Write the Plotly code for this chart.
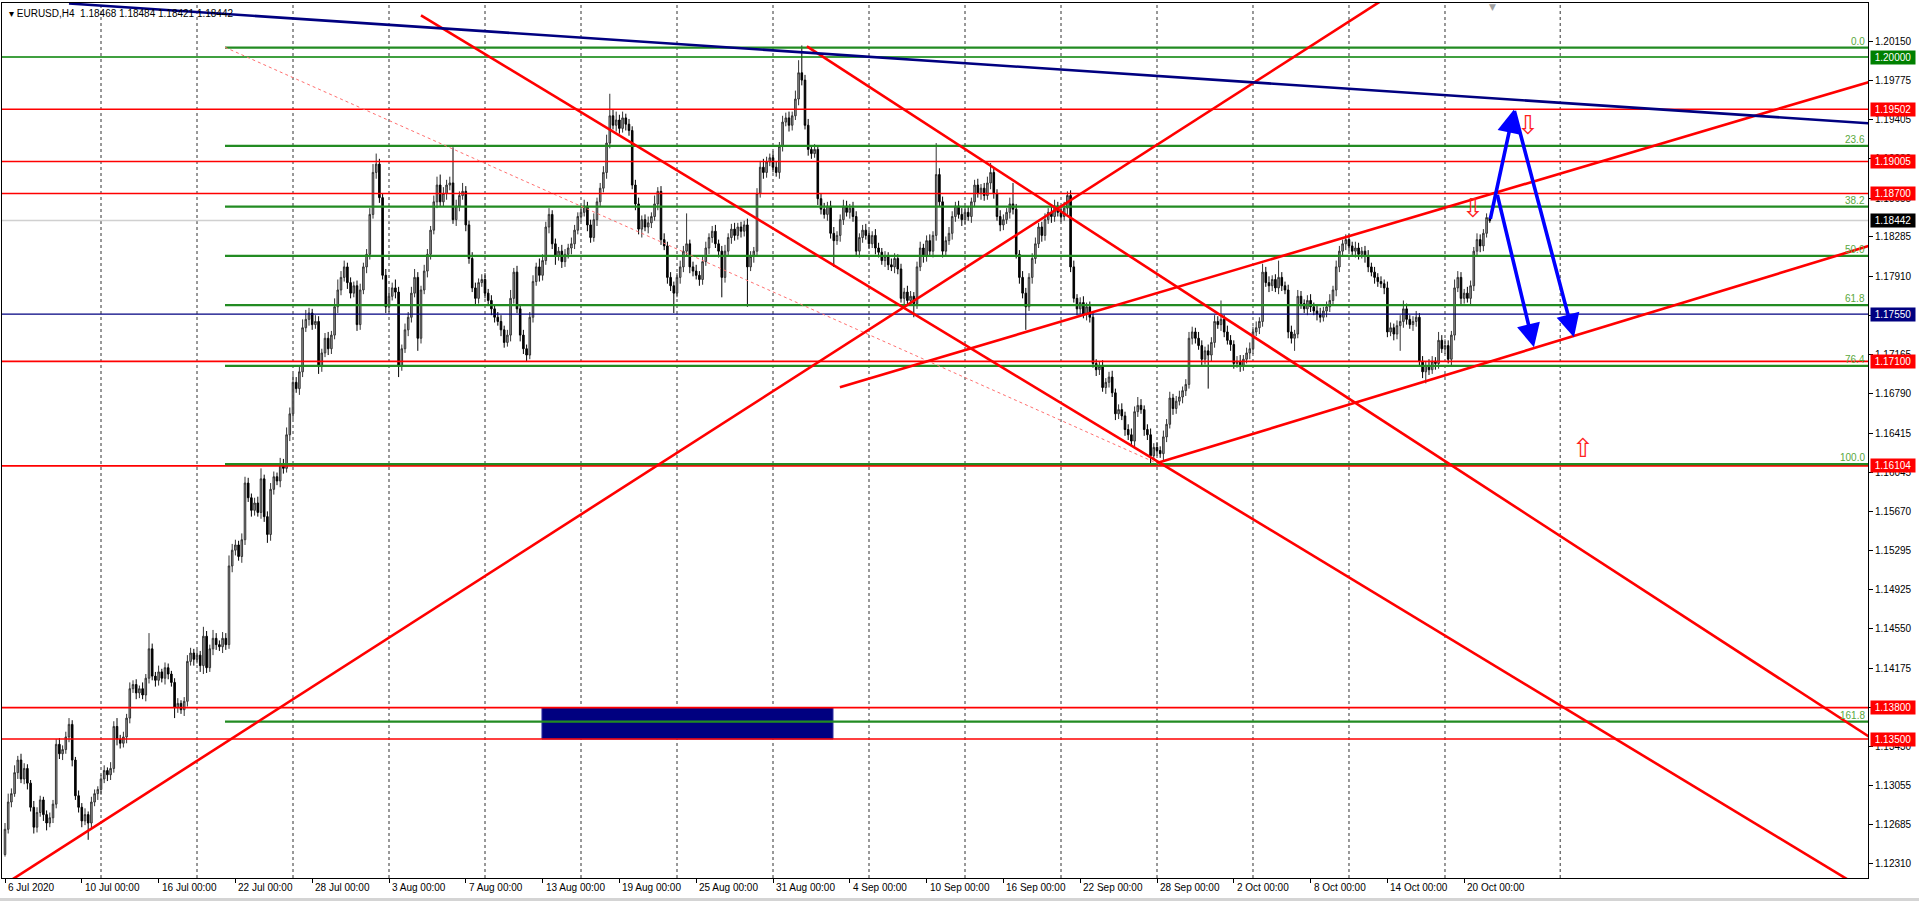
import plotly.graph_objects as go

# ---------------- data (prices in 1e-4 units) ----------------
FIRST_OPEN = 11240
CLOSE = [
    11264, 11290, 11298, 11318, 11330, 11312, 11322, 11308, 11285, 11266, 11280, 11292, 11278, 11270, 11275,
    11288, 11345, 11336, 11340, 11352, 11364, 11330, 11296, 11285, 11272, 11278, 11270, 11290, 11298, 11302,
    11312, 11320, 11316, 11322, 11362, 11350, 11346, 11352, 11370, 11398, 11402, 11394, 11398, 11392, 11408,
    11436, 11410, 11406, 11414, 11408, 11418, 11412, 11404, 11380, 11384, 11378, 11386, 11424, 11432, 11426,
    11430, 11420, 11448, 11418, 11436, 11446, 11440, 11438, 11446, 11440, 11515, 11530, 11535, 11524, 11540,
    11594, 11580, 11568, 11575, 11566, 11598, 11562, 11545, 11588, 11600, 11596, 11612, 11608, 11640, 11660,
    11690, 11684, 11700, 11742, 11750, 11756, 11745, 11748, 11705, 11718, 11732, 11722, 11735, 11762, 11778,
    11790, 11800, 11785, 11775, 11782, 11745, 11778, 11800, 11812, 11850, 11890, 11898, 11866, 11792, 11762,
    11772, 11780, 11776, 11706, 11722, 11740, 11752, 11775, 11790, 11732, 11778, 11796, 11812, 11835, 11862,
    11878, 11862, 11870, 11878, 11880, 11845, 11858, 11868, 11872, 11840, 11808, 11780, 11770, 11785, 11788,
    11775, 11768, 11760, 11752, 11748, 11740, 11728, 11735, 11770, 11795, 11760, 11735, 11722, 11716, 11752,
    11786, 11800, 11792, 11806, 11838, 11850, 11822, 11810, 11815, 11805, 11812, 11818, 11822, 11835, 11848,
    11852, 11858, 11840, 11828, 11845, 11862, 11875, 11890, 11918, 11944, 11935, 11940, 11932, 11942, 11936,
    11930, 11878, 11860, 11836, 11845, 11838, 11842, 11848, 11860, 11872, 11826, 11820, 11790, 11782, 11775,
    11790, 11800, 11815, 11822, 11800, 11796, 11792, 11788, 11805, 11818, 11828, 11834, 11822, 11815, 11790,
    11815, 11828, 11836, 11830, 11838, 11834, 11840, 11800, 11810, 11815, 11870, 11895, 11890, 11900, 11904,
    11895, 11890, 11915, 11938, 11942, 11935, 11944, 11960, 11985, 11978, 11935, 11912, 11908, 11912, 11865,
    11855, 11850, 11858, 11832, 11825, 11830, 11845, 11858, 11852, 11856, 11848, 11815, 11828, 11835, 11830,
    11822, 11830, 11818, 11814, 11806, 11810, 11802, 11800, 11808, 11798, 11770, 11776, 11768, 11772, 11765,
    11800, 11818, 11810, 11825, 11815, 11830, 11888, 11862, 11815, 11825, 11832, 11848, 11858, 11850, 11845,
    11852, 11848, 11862, 11878, 11870, 11875, 11868, 11880, 11890, 11870, 11848, 11840, 11845, 11852, 11860,
    11855, 11812, 11790, 11775, 11762, 11790, 11808, 11822, 11838, 11830, 11845, 11852, 11848, 11858, 11852,
    11848, 11856, 11868, 11800, 11770, 11760, 11766, 11755, 11762, 11752, 11708, 11702, 11705, 11685, 11690,
    11695, 11680, 11660, 11664, 11658, 11645, 11640, 11634, 11662, 11668, 11664, 11645, 11640, 11620, 11628,
    11625, 11622, 11638, 11650, 11675, 11665, 11672, 11676, 11682, 11688, 11732, 11738, 11732, 11725, 11712,
    11720, 11716, 11728, 11748, 11745, 11750, 11738, 11730, 11726, 11708, 11710, 11706, 11712, 11718, 11722,
    11738, 11742, 11748, 11795, 11785, 11782, 11788, 11780, 11790, 11782, 11778, 11738, 11732, 11736, 11772,
    11765, 11760, 11768, 11762, 11758, 11755, 11752, 11758, 11762, 11768, 11778, 11800, 11815, 11822, 11826,
    11820, 11815, 11818, 11812, 11815, 11810, 11800, 11795, 11790, 11786, 11784, 11780, 11738, 11742, 11736,
    11744, 11748, 11760, 11750, 11745, 11748, 11752, 11710, 11700, 11706, 11702, 11710, 11708, 11730, 11722,
    11725, 11712, 11735, 11780, 11790, 11770, 11775, 11770, 11782, 11815, 11826, 11820, 11832, 11847, 11844,
]
WICK_UP = [
    6, 8, 5, 7, 4, 6, 5, 4, 3, 6, 5, 4, 3, 4, 5, 4, 5, 6, 4, 5, 6, 4, 3, 5, 4, 6, 3, 5, 4, 3,
    4, 5, 3, 6, 5, 8, 4, 5, 4, 6, 4, 5, 3, 6, 4, 15, 5, 4, 6, 3, 5, 4, 3, 4, 5, 3, 4, 6, 5, 4,
    5, 4, 9, 5, 4, 8, 5, 4, 6, 5, 10, 6, 5, 4, 6, 6, 5, 4, 5, 6, 10, 4, 5, 6, 5, 4, 6, 5, 7, 6,
    8, 5, 6, 8, 9, 5, 4, 6, 5, 4, 5, 6, 4, 8, 10, 6, 6, 4, 5, 4, 5, 6, 4, 5, 6, 8, 10, 5, 4, 6,
    6, 5, 8, 5, 4, 6, 5, 6, 8, 5, 4, 6, 5, 4, 6, 8, 10, 6, 5, 6, 34, 6, 4, 8, 5, 4, 6, 5, 4, 5,
    6, 4, 5, 4, 5, 6, 4, 5, 8, 4, 6, 4, 5, 4, 5, 6, 4, 8, 6, 5, 6, 4, 5, 4, 6, 5, 4, 6, 5, 4,
    5, 6, 4, 5, 6, 4, 5, 6, 8, 21, 6, 8, 5, 6, 4, 5, 4, 5, 6, 4, 5, 6, 4, 8, 4, 5, 6, 4, 5, 4,
    4, 6, 5, 29, 4, 5, 6, 4, 5, 6, 4, 5, 6, 4, 5, 6, 4, 5, 6, 4, 5, 4, 6, 5, 4, 5, 6, 8, 5, 4,
    6, 5, 4, 6, 5, 6, 4, 8, 12, 26, 5, 6, 4, 5, 4, 5, 6, 4, 5, 6, 4, 5, 6, 5, 4, 6, 5, 4, 5, 6,
    5, 4, 6, 5, 4, 5, 4, 6, 5, 4, 5, 4, 6, 5, 4, 5, 6, 4, 5, 6, 4, 30, 6, 5, 4, 6, 5, 4, 5, 6,
    5, 6, 4, 5, 6, 4, 5, 6, 9, 5, 4, 6, 5, 4, 6, 20, 5, 4, 6, 5, 4, 5, 6, 4, 5, 6, 4, 5, 6, 4,
    5, 6, 4, 5, 6, 4, 5, 6, 4, 5, 6, 4, 5, 6, 4, 5, 6, 4, 5, 6, 4, 5, 6, 5, 8, 6, 4, 5, 6, 4,
    5, 4, 6, 5, 6, 4, 5, 6, 4, 5, 6, 5, 4, 6, 5, 4, 6, 5, 6, 5, 18, 4, 6, 5, 4, 5, 6, 4, 5, 6,
    5, 6, 4, 8, 5, 6, 4, 5, 16, 5, 4, 5, 6, 4, 6, 5, 4, 5, 6, 4, 5, 6, 4, 5, 6, 4, 6, 5, 4, 5,
    5, 4, 6, 5, 4, 5, 6, 4, 5, 4, 5, 4, 6, 5, 4, 5, 6, 8, 5, 4, 5, 6, 4, 5, 4, 6, 5, 4, 8, 5,
    6, 5, 4, 8, 6, 5, 4, 6, 5, 4, 6, 5, 4, 4, 1,
]
WICK_DN = [
    2, 4, 5, 3, 6, 4, 5, 6, 4, 6, 5, 4, 6, 7, 4, 5, 4, 5, 6, 4, 5, 6, 4, 5, 6, 4, 16, 5, 4, 6,
    5, 4, 6, 5, 4, 6, 5, 4, 6, 5, 4, 6, 5, 4, 6, 5, 4, 6, 5, 4, 6, 5, 4, 10, 5, 4, 6, 5, 4, 6,
    4, 6, 8, 5, 4, 6, 5, 4, 6, 5, 4, 6, 5, 4, 6, 5, 4, 6, 5, 4, 6, 5, 8, 6, 5, 4, 6, 5, 4, 6,
    5, 4, 6, 5, 4, 6, 5, 4, 7, 5, 4, 6, 5, 4, 6, 5, 4, 6, 5, 4, 6, 5, 4, 6, 5, 4, 6, 5, 4, 6,
    5, 4, 6, 11, 5, 4, 6, 5, 4, 12, 5, 4, 6, 5, 4, 6, 5, 4, 6, 5, 4, 6, 5, 4, 6, 5, 4, 6, 5, 4,
    5, 4, 6, 5, 4, 6, 5, 4, 6, 5, 4, 6, 5, 6, 4, 5, 4, 6, 5, 4, 6, 5, 8, 4, 6, 5, 4, 6, 5, 4,
    5, 4, 6, 5, 4, 6, 5, 4, 6, 5, 4, 6, 5, 4, 6, 5, 4, 6, 5, 8, 4, 6, 5, 4, 6, 5, 4, 6, 5, 19,
    4, 6, 5, 4, 6, 5, 4, 6, 5, 4, 6, 5, 4, 6, 19, 5, 4, 6, 5, 4, 6, 5, 38, 4, 6, 5, 4, 6, 5, 4,
    5, 4, 6, 5, 4, 6, 5, 4, 6, 5, 4, 6, 5, 4, 6, 5, 4, 6, 5, 25, 4, 6, 5, 4, 6, 5, 4, 6, 5, 4,
    5, 4, 6, 5, 4, 6, 5, 4, 6, 5, 4, 6, 5, 4, 13, 5, 4, 6, 5, 4, 6, 5, 4, 6, 5, 4, 6, 5, 4, 6,
    5, 4, 6, 5, 4, 6, 5, 4, 6, 5, 4, 6, 5, 4, 6, 5, 4, 6, 5, 22, 4, 6, 5, 4, 6, 5, 4, 6, 5, 4,
    5, 4, 6, 5, 4, 6, 5, 4, 6, 5, 4, 6, 5, 4, 6, 5, 4, 6, 5, 4, 6, 5, 4, 6, 5, 4, 6, 5, 8, 4,
    5, 4, 6, 5, 4, 6, 5, 4, 6, 5, 4, 6, 5, 4, 6, 5, 32, 6, 5, 4, 6, 5, 4, 6, 5, 4, 6, 5, 4, 6,
    5, 4, 6, 5, 4, 6, 5, 4, 6, 5, 4, 6, 5, 12, 4, 5, 4, 6, 5, 4, 6, 5, 4, 6, 5, 4, 6, 5, 4, 6,
    5, 4, 6, 5, 4, 6, 5, 4, 6, 5, 4, 6, 5, 4, 6, 5, 24, 6, 5, 4, 6, 5, 4, 6, 11, 5, 4, 6, 5, 4,
    5, 4, 6, 5, 4, 6, 5, 4, 6, 5, 4, 6, 5, 4, 2,
]
PIP = 1e-4

TITLE = "▾ EURUSD,H4  1.18468 1.18484 1.18421 1.18442"

X_LABEL_BARS = [0, 24, 48, 72, 96, 120, 144, 168, 192, 216, 240, 264, 288, 312, 336, 360, 384, 408, 432, 456]
X_LABELS = ["6 Jul 2020", "10 Jul 00:00", "16 Jul 00:00", "22 Jul 00:00", "28 Jul 00:00", "3 Aug 00:00",
            "7 Aug 00:00", "13 Aug 00:00", "19 Aug 00:00", "25 Aug 00:00", "31 Aug 00:00", "4 Sep 00:00",
            "10 Sep 00:00", "16 Sep 00:00", "22 Sep 00:00", "28 Sep 00:00", "2 Oct 00:00", "8 Oct 00:00",
            "14 Oct 00:00", "20 Oct 00:00"]
GRID_BARS = [30, 60, 90, 120, 150, 180, 210, 240, 270, 300, 330, 360, 390, 420, 450, 486]

Y_TICKS = [1.20150, 1.19775, 1.19405, 1.19030, 1.18655, 1.18285, 1.17910, 1.17540, 1.17165, 1.16790,
           1.16415, 1.16045, 1.15670, 1.15295, 1.14925, 1.14550, 1.14175, 1.13800, 1.13430, 1.13055,
           1.12685, 1.12310]

RED_LEVELS = [1.19502, 1.19005, 1.18700, 1.17100, 1.16104, 1.13800, 1.13500]
GREEN_LEVEL = 1.20000
NAVY_LEVEL = 1.17550
LAST_PRICE = 1.18442
PRICE_TAGS = [(1.20000, "#008000"), (1.19502, "#ff0000"), (1.19005, "#ff0000"), (1.18700, "#ff0000"),
              (1.18442, "#000000"), (1.17550, "#000080"), (1.17100, "#ff0000"), (1.16104, "#ff0000"),
              (1.13800, "#ff0000"), (1.13500, "#ff0000")]

FIB_LEVELS = [0.0, 23.6, 38.2, 50.0, 61.8, 76.4, 100.0, 161.8]
FIB_TOP = 1.2009
FIB_BOTTOM = 1.1612
FIB_START_BAR = 68.75
FIB_DIAG = [(68.75, 1.20093), (360.6, 1.16120)]

RED_TRENDS = [
    [(-5.0, 1.1202), (440.0, 1.2073)],
    [(130.0, 1.20398), (590.0, 1.11900)],
    [(250.6, 1.20102), (590.0, 1.13374)],
    [(360.0, 1.16130), (590.0, 1.18270)],
    [(260.9, 1.16854), (590.0, 1.19830)],
]
NAVY_TREND = [(20.0, 1.2051), (590.0, 1.19353)]

BOX = [(167.8, 1.1350), (258.75, 1.1380)]

# arrows: (tail, head)
BLUE_ARROWS = [
    [(464.06, 1.18444), (471.56, 1.19500)],
    [(466.25, 1.18701), (477.8, 1.17234)],
    [(471.56, 1.19500), (490.3, 1.17329)],
]
SIGNALS = [(475.9, 1.1935, "⇩"), (458.75, 1.1856, "⇩"), (493.1, 1.1627, "⇧")]

X_MIN, X_MAX = -0.9375, 582.19
Y_MIN, Y_MAX = 1.12176, 1.20515

# ---------------- build ----------------
OPEN = [FIRST_OPEN] + CLOSE[:-1]
opens = [v * PIP for v in OPEN]
closes = [v * PIP for v in CLOSE]
highs = [(max(o, c) + u) * PIP for o, c, u in zip(OPEN, CLOSE, WICK_UP)]
lows = [(min(o, c) - d) * PIP for o, c, d in zip(OPEN, CLOSE, WICK_DN)]
bars = list(range(len(CLOSE)))

FONT = "Liberation Sans, Arial, sans-serif"

fig = go.Figure(go.Candlestick(
    x=bars, open=opens, high=highs, low=lows, close=closes,
    increasing=dict(fillcolor="#a0a0a0", line=dict(color="#333333", width=1)),
    decreasing=dict(fillcolor="#000000", line=dict(color="#000000", width=1)),
    whiskerwidth=0, hoverinfo="skip", showlegend=False,
))

shapes = []
for b in GRID_BARS:
    shapes.append(dict(type="line", xref="x", yref="paper", x0=b, x1=b, y0=0, y1=1,
                       line=dict(color="#333333", width=1, dash="3px,3px"), layer="below"))
shapes.append(dict(type="line", xref="x", yref="y", x0=X_MIN - 5, x1=X_MAX + 10, y0=LAST_PRICE, y1=LAST_PRICE,
                   line=dict(color="#d0d0d0", width=1.5), layer="below"))
shapes.append(dict(type="rect", xref="x", yref="y", x0=BOX[0][0], x1=BOX[1][0], y0=BOX[0][1], y1=BOX[1][1],
                   fillcolor="#000080", line=dict(color="#3030a0", width=1), layer="above"))
for p in RED_LEVELS:
    shapes.append(dict(type="line", xref="x", yref="y", x0=X_MIN - 5, x1=X_MAX + 10, y0=p, y1=p,
                       line=dict(color="#ff0000", width=1.6), layer="above"))
shapes.append(dict(type="line", xref="x", yref="y", x0=X_MIN - 5, x1=X_MAX + 10, y0=GREEN_LEVEL, y1=GREEN_LEVEL,
                   line=dict(color="#008000", width=1.4), layer="above"))
shapes.append(dict(type="line", xref="x", yref="y", x0=X_MIN - 5, x1=X_MAX + 10, y0=NAVY_LEVEL, y1=NAVY_LEVEL,
                   line=dict(color="#000080", width=1.4), layer="above"))
fib_prices = [FIB_TOP - lvl / 100.0 * (FIB_TOP - FIB_BOTTOM) for lvl in FIB_LEVELS]
for fp in fib_prices:
    shapes.append(dict(type="line", xref="x", yref="y", x0=FIB_START_BAR, x1=X_MAX + 10, y0=fp, y1=fp,
                       line=dict(color="#228b22", width=2.2), layer="above"))
shapes.append(dict(type="line", xref="x", yref="y", x0=FIB_DIAG[0][0], y0=FIB_DIAG[0][1],
                   x1=FIB_DIAG[1][0], y1=FIB_DIAG[1][1],
                   line=dict(color="#ff7070", width=1, dash="dot"), layer="above"))
for (a, b) in RED_TRENDS:
    shapes.append(dict(type="line", xref="x", yref="y", x0=a[0], y0=a[1], x1=b[0], y1=b[1],
                       line=dict(color="#ff0000", width=2.6), layer="above"))
shapes.append(dict(type="line", xref="x", yref="y", x0=NAVY_TREND[0][0], y0=NAVY_TREND[0][1],
                   x1=NAVY_TREND[1][0], y1=NAVY_TREND[1][1],
                   line=dict(color="#000080", width=2.6), layer="above"))
# bottom window strip
shapes.append(dict(type="rect", xref="paper", yref="paper", x0=-0.01, x1=1.05, y0=-0.0263, y1=-0.0229,
                   fillcolor="#d4d4d4", line=dict(width=0), layer="above"))

ann = []
for b, t in zip(X_LABEL_BARS, X_LABELS):
    ann.append(dict(x=b, y=0, xref="x", yref="paper", text=t, showarrow=False, xanchor="left",
                    yanchor="top", xshift=1, yshift=-2, font=dict(family=FONT, size=10, color="black")))
for lvl, fp in zip(FIB_LEVELS, fib_prices):
    ann.append(dict(x=1, y=fp, xref="paper", yref="y", text=f"{lvl:.1f}", showarrow=False, xanchor="right",
                    yanchor="bottom", xshift=-1, yshift=-1, font=dict(family=FONT, size=10, color="#5aa83c")))
for p, col in PRICE_TAGS:
    ann.append(dict(x=1, y=p, xref="paper", yref="y", text=f"{p:.5f}", showarrow=False, xanchor="left",
                    yanchor="middle", xshift=2, bgcolor=col, borderpad=1, width=42,
                    font=dict(family=FONT, size=10, color="white")))
for (tail, head) in BLUE_ARROWS:
    ann.append(dict(x=head[0], y=head[1], ax=tail[0], ay=tail[1], xref="x", yref="y", axref="x", ayref="y",
                    text="", showarrow=True, arrowhead=2, arrowsize=1.3, arrowwidth=3.6, arrowcolor="#0000ff"))
for bx, py, sym in SIGNALS:
    ann.append(dict(x=bx, y=py, xref="x", yref="y", text=sym, showarrow=False,
                    font=dict(family="DejaVu Sans", size=26, color="#ff2020")))
ann.append(dict(x=0, y=1, xref="paper", yref="paper", text=TITLE, showarrow=False, xanchor="left",
                yanchor="top", xshift=5, yshift=-3, font=dict(family=FONT, size=10, color="black")))
ann.append(dict(x=465, y=1, xref="x", yref="paper", text="▼", showarrow=False, yanchor="top", yshift=3,
                font=dict(family="DejaVu Sans", size=9, color="#a0a0a0")))

fig.update_layout(
    width=1919, height=901,
    margin=dict(l=2, r=51, t=3, b=23),
    paper_bgcolor="white", plot_bgcolor="white",
    showlegend=False,
    font=dict(family=FONT, size=10, color="black"),
    shapes=shapes, annotations=ann,
    xaxis=dict(range=[X_MIN, X_MAX], rangeslider=dict(visible=False), showgrid=False, zeroline=False,
               tickvals=X_LABEL_BARS, ticktext=[""] * len(X_LABEL_BARS), ticks="outside", ticklen=4,
               tickcolor="black", showline=True, linecolor="black", linewidth=1, mirror=True, fixedrange=True),
    yaxis=dict(range=[Y_MIN, Y_MAX], side="right", tickvals=Y_TICKS, ticktext=[f"{v:.5f}" for v in Y_TICKS],
               ticks="outside", ticklen=4, tickcolor="black", showgrid=False, zeroline=False,
               showline=True, linecolor="black", linewidth=1, mirror=True, fixedrange=True,
               tickfont=dict(family=FONT, size=10, color="black")),
)

fig.write_html("out.html", config={"displayModeBar": False},
               post_script="document.body.style.margin='0';document.body.style.overflow='hidden';")
